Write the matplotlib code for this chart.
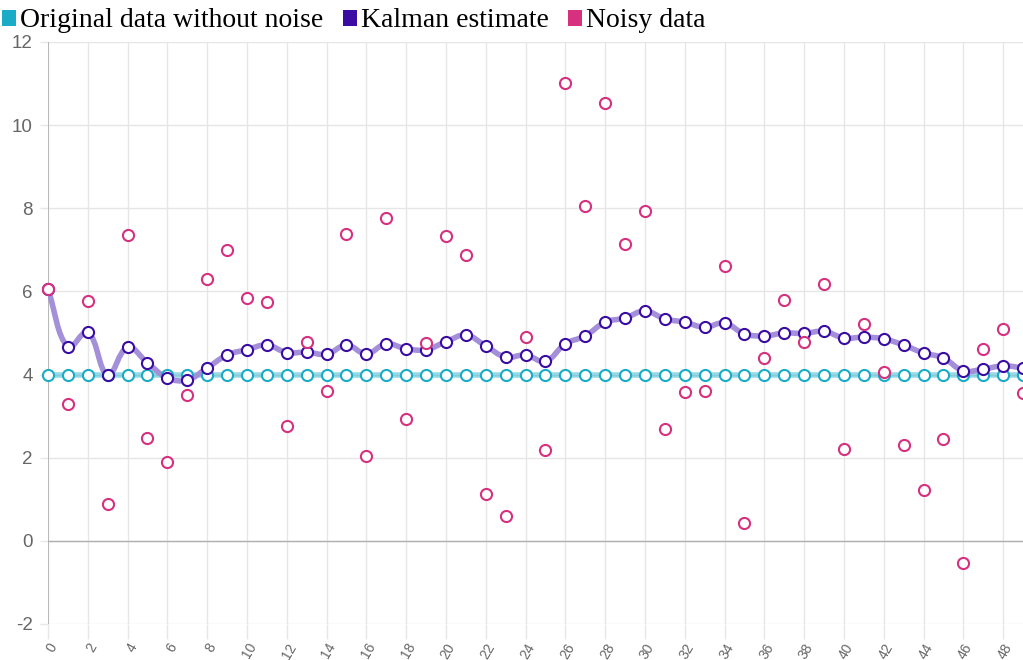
import numpy as np
import matplotlib
matplotlib.use("Agg")
import matplotlib.pyplot as plt
from matplotlib.path import Path
from matplotlib.patches import PathPatch, Patch
from matplotlib.ticker import FuncFormatter

# values
steps = list(range(50))
original = [4.0] * 50
kalman = [6.05, 4.66, 5.02, 3.99, 4.66, 4.28, 3.92, 3.87, 4.16, 4.47,
          4.60, 4.71, 4.53, 4.54, 4.49, 4.71, 4.50, 4.74, 4.62, 4.60,
          4.79, 4.95, 4.69, 4.42, 4.47, 4.32, 4.74, 4.93, 5.26, 5.36,
          5.53, 5.34, 5.26, 5.14, 5.24, 4.98, 4.93, 5.00, 4.99, 5.04,
          4.88, 4.90, 4.86, 4.71, 4.52, 4.40, 4.09, 4.13, 4.21, 4.16]
noisy = [6.05, 3.29, 5.77, 0.89, 7.36, 2.48, 1.90, 3.51, 6.30, 7.00,
         5.84, 5.75, 2.76, 4.78, 3.61, 7.38, 2.04, 7.76, 2.93, 4.76,
         7.33, 6.88, 1.13, 0.60, 4.90, 2.19, 11.02, 8.05, 10.53, 7.14,
         7.93, 2.69, 3.57, 3.60, 6.61, 0.43, 4.40, 5.79, 4.79, 6.18,
         2.21, 5.22, 4.06, 2.30, 1.22, 2.45, -0.53, 4.62, 5.09, 3.56]
x_ticks = list(range(0, 50, 2))
y_ticks = list(range(-2, 13, 2))

CYAN = "#1aacc6"
PURPLE = "#3a0ca3"
PINK = "#d6307f"


def smooth_path(ax, xs, ys, tension=0.4):
    """Chart.js style bezier spline through the points (computed in pixels)."""
    pts = ax.transData.transform(np.column_stack([xs, ys]))
    n = len(pts)
    cps_prev, cps_next = [], []
    for i in range(n):
        cur = pts[i]
        prev = pts[i - 1] if i > 0 else cur
        nxt = pts[i + 1] if i < n - 1 else cur
        d01 = np.hypot(*(cur - prev))
        d12 = np.hypot(*(nxt - cur))
        tot = d01 + d12
        s01 = d01 / tot if tot else 0
        s12 = d12 / tot if tot else 0
        cps_prev.append(cur - tension * s01 * (nxt - prev))
        cps_next.append(cur + tension * s12 * (nxt - prev))
    verts = [pts[0]]
    codes = [Path.MOVETO]
    for i in range(1, n):
        verts += [cps_next[i - 1], cps_prev[i], pts[i]]
        codes += [Path.CURVE4] * 3
    inv = ax.transData.inverted()
    return Path(inv.transform(np.array(verts)), codes)


fig = plt.figure(figsize=(10.23, 6.6), dpi=100)
ax = fig.add_axes([48 / 1023, 36 / 660, 1 - 48 / 1023, (624 - 42) / 660])
ax.set_xlim(0, 49)
ax.set_ylim(-2, 12)

for s in ax.spines.values():
    s.set_visible(False)
ax.set_xticks(x_ticks)
ax.set_yticks(y_ticks)
ax.yaxis.set_major_formatter(FuncFormatter(lambda v, p: f"{v:.0f}"))
ax.grid(True, color="#e6e6e6", linewidth=1)
ax.set_axisbelow(True)
ax.tick_params(axis="x", length=11, color="#e6e6e6", width=1, pad=1,
               labelsize=10, labelcolor="#666666")
ax.tick_params(axis="y", length=6, color="#e6e6e6", width=1, pad=5,
               labelsize=13.5, labelcolor="#666666")
for lbl in ax.get_xticklabels():
    lbl.set_rotation(60)
    lbl.set_ha("right")
    lbl.set_va("top")
    lbl.set_rotation_mode("anchor")
for lbl in ax.get_xticklabels() + ax.get_yticklabels():
    lbl.set_fontfamily("Liberation Sans")

ax.axhline(0, color="#b0b0b0", linewidth=1, zorder=1)
ax.axvline(0, color="#b0b0b0", linewidth=1.2, zorder=1)

# lines
ax.plot(steps, original, color=CYAN, alpha=0.45, linewidth=4, zorder=2,
        solid_capstyle="butt")
ax.add_patch(PathPatch(smooth_path(ax, steps, kalman), facecolor="none",
                       edgecolor="#a48fd9", linewidth=4, zorder=3))

# points
ax.plot(steps, original, linestyle="none", marker="o", markersize=8,
        markerfacecolor="white", markeredgecolor=CYAN, markeredgewidth=1.5,
        zorder=4, clip_on=False)
ax.plot(steps, kalman, linestyle="none", marker="o", markersize=8,
        markerfacecolor="white", markeredgecolor=PURPLE, markeredgewidth=1.5,
        zorder=5, clip_on=False)
ax.plot(steps, noisy, linestyle="none", marker="o", markersize=8,
        markerfacecolor="white", markeredgecolor=PINK, markeredgewidth=1.5,
        zorder=6, clip_on=False)

handles = [Patch(facecolor=CYAN, label="Original data without noise"),
           Patch(facecolor=PURPLE, label="Kalman estimate"),
           Patch(facecolor=PINK, label="Noisy data")]
fig.legend(handles=handles, loc="upper left", bbox_to_anchor=(-0.009, 1.004),
           ncol=3, frameon=False, handlelength=0.5, handleheight=0.5,
           handletextpad=0.15, columnspacing=0.7, borderaxespad=0.0,
           prop={"family": "Liberation Serif", "size": 20})

fig.savefig("out.png", dpi=100)
